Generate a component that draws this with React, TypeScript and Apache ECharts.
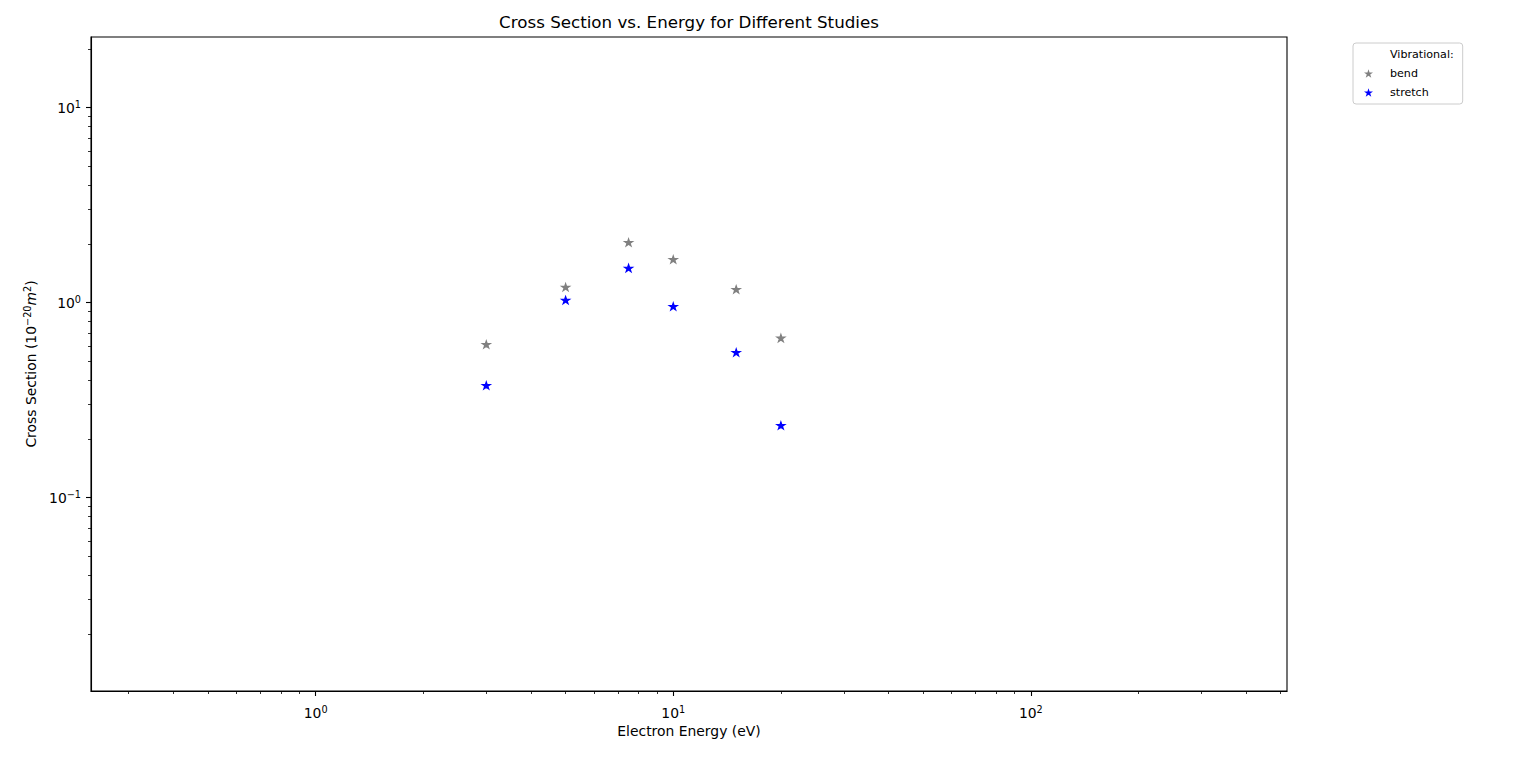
import React, { useEffect, useRef } from 'react';
import * as echarts from 'echarts';

// ---- data ----
const energies = [3, 5, 7.5, 10, 15, 20];
const bendValues = [0.61, 1.2, 2.035, 1.665, 1.169, 0.658];
const stretchValues = [0.376, 1.03, 1.503, 0.956, 0.555, 0.2346];

const seriesNames = ['bend', 'stretch'];
const legendTitle = 'Vibrational:';

const xRange = [0.2353, 520.6];
const yRange = [0.0102, 23.0];

const xMajorTicks = [1, 10, 100];
const xMinorTicks = [
  0.3, 0.4, 0.5, 0.6, 0.7, 0.8, 0.9,
  2, 3, 4, 5, 6, 7, 8, 9,
  20, 30, 40, 50, 60, 70, 80, 90,
  200, 300, 400, 500,
];
const yMajorTicks = [0.1, 1, 10];
const yMinorTicks = [
  0.02, 0.03, 0.04, 0.05, 0.06, 0.07, 0.08, 0.09,
  0.2, 0.3, 0.4, 0.5, 0.6, 0.7, 0.8, 0.9,
  2, 3, 4, 5, 6, 7, 8, 9,
  20,
];

const titleText = 'Cross Section vs. Energy for Different Studies';
const xName = 'Electron Energy (eV)';

const FONT = 'DejaVu Sans';
const STAR =
  'path://M0,-100 L-22.45,-30.9 L-95.11,-30.9 L-36.33,11.8 L-58.78,80.9 L0,38.2 L58.78,80.9 L36.33,11.8 L95.11,-30.9 L22.45,-30.9 Z';

const labelRich = {
  b: { fontSize: 13.9, fontFamily: FONT, color: '#000' },
  sup: { fontSize: 9.7, fontFamily: FONT, color: '#000', padding: [0, 0, 7, 0] },
};

const powLabel = (v: number) => {
  const e = Math.round(Math.log10(v));
  return '{b|10}{sup|' + String(e).replace('-', '\u2212') + '}';
};

export default function App() {
  const ref = useRef<HTMLDivElement>(null);

  useEffect(() => {
    document.body.style.margin = '0';
    if (!ref.current) return;
    const chart = echarts.init(ref.current, undefined, { renderer: 'svg' });

    const majorTick = (vals: number[]) => ({
      show: true,
      inside: false,
      length: 5,
      customValues: vals,
      lineStyle: { color: '#000', width: 1.1 },
    });
    const minorTick = (vals: number[]) => ({
      show: true,
      inside: false,
      length: 3,
      customValues: vals,
      lineStyle: { color: '#000', width: 0.8 },
    });

    const option: any = {
      animation: false,
      backgroundColor: '#fff',
      title: {
        text: titleText,
        left: 689,
        top: 13,
        padding: 0,
        textAlign: 'center',
        textStyle: { fontFamily: FONT, fontSize: 16.7, fontWeight: 'normal', color: '#000' },
      },
      grid: {
        left: 91,
        top: 37,
        width: 1196,
        height: 654,
        show: true,
        borderColor: '#000',
        borderWidth: 1.1,
        backgroundColor: 'transparent',
        containLabel: false,
      },
      legend: {
        orient: 'vertical',
        left: 1353,
        top: 43,
        padding: [6, 9, 6, 11],
        itemGap: 8,
        itemWidth: 9,
        itemHeight: 9,
        borderColor: '#cccccc',
        borderWidth: 1,
        borderRadius: 3,
        backgroundColor: '#fff',
        selectedMode: false,
        itemStyle: { borderWidth: 0 },
        textStyle: { fontFamily: FONT, fontSize: 11.1, color: '#000', padding: [0, 0, 0, 12] },
        data: [
          { name: legendTitle, icon: 'none' },
          { name: seriesNames[0], icon: STAR },
          { name: seriesNames[1], icon: STAR },
        ],
      },
      xAxis: [
        {
          type: 'log',
          logBase: 10,
          position: 'bottom',
          min: xRange[0],
          max: xRange[1],
          axisLine: { show: true, lineStyle: { color: '#000', width: 1.1 } },
          axisTick: majorTick(xMajorTicks),
          axisLabel: { show: true, margin: 13, customValues: xMajorTicks, formatter: powLabel, rich: labelRich },
          splitLine: { show: false },
          minorTick: { show: false },
          minorSplitLine: { show: false },
          name: xName,
          nameLocation: 'middle',
          nameGap: 33,
          nameTextStyle: { fontFamily: FONT, fontSize: 13.9, color: '#000' },
        },
        {
          type: 'log',
          logBase: 10,
          position: 'bottom',
          min: xRange[0],
          max: xRange[1],
          axisLine: { show: false },
          axisTick: minorTick(xMinorTicks),
          axisLabel: { show: false },
          splitLine: { show: false },
        },
      ],
      yAxis: [
        {
          type: 'log',
          logBase: 10,
          position: 'left',
          min: yRange[0],
          max: yRange[1],
          axisLine: { show: true, lineStyle: { color: '#000', width: 1.1 } },
          axisTick: majorTick(yMajorTicks),
          axisLabel: { show: true, margin: 10, customValues: yMajorTicks, formatter: powLabel, rich: labelRich },
          splitLine: { show: false },
          minorTick: { show: false },
          minorSplitLine: { show: false },
          name: 'Cross Section ({n|10}{s|\u221220}{i|m}{s|2})',
          nameLocation: 'middle',
          nameRotate: 90,
          nameGap: 51,
          nameTextStyle: {
            fontFamily: FONT,
            fontSize: 13.9,
            color: '#000',
            rich: {
              n: { fontFamily: FONT, fontSize: 13.9, color: '#000' },
              s: { fontFamily: FONT, fontSize: 9.7, color: '#000', padding: [0, 0, 7, 0] },
              i: { fontFamily: FONT, fontSize: 13.9, color: '#000', fontStyle: 'italic' },
            },
          },
        },
        {
          type: 'log',
          logBase: 10,
          position: 'left',
          min: yRange[0],
          max: yRange[1],
          axisLine: { show: false },
          axisTick: minorTick(yMinorTicks),
          axisLabel: { show: false },
          splitLine: { show: false },
        },
      ],
      series: [
        {
          name: legendTitle,
          type: 'scatter',
          data: [],
          itemStyle: { color: 'transparent' },
        },
        {
          name: seriesNames[0],
          type: 'scatter',
          xAxisIndex: 0,
          yAxisIndex: 0,
          symbol: STAR,
          symbolKeepAspect: true,
          symbolSize: [7.9, 7.5],
          itemStyle: { color: 'gray', borderColor: 'gray', borderWidth: 1.2, opacity: 1 },
          data: energies.map((e, i) => [e, bendValues[i]]),
        },
        {
          name: seriesNames[1],
          type: 'scatter',
          xAxisIndex: 0,
          yAxisIndex: 0,
          symbol: STAR,
          symbolKeepAspect: true,
          symbolSize: [7.9, 7.5],
          itemStyle: { color: 'blue', borderColor: 'blue', borderWidth: 1.2, opacity: 1 },
          data: energies.map((e, i) => [e, stretchValues[i]]),
        },
      ],
    };

    chart.setOption(option);
    return () => chart.dispose();
  }, []);

  return <div ref={ref} style={{ width: 1536, height: 762 }} />;
}
